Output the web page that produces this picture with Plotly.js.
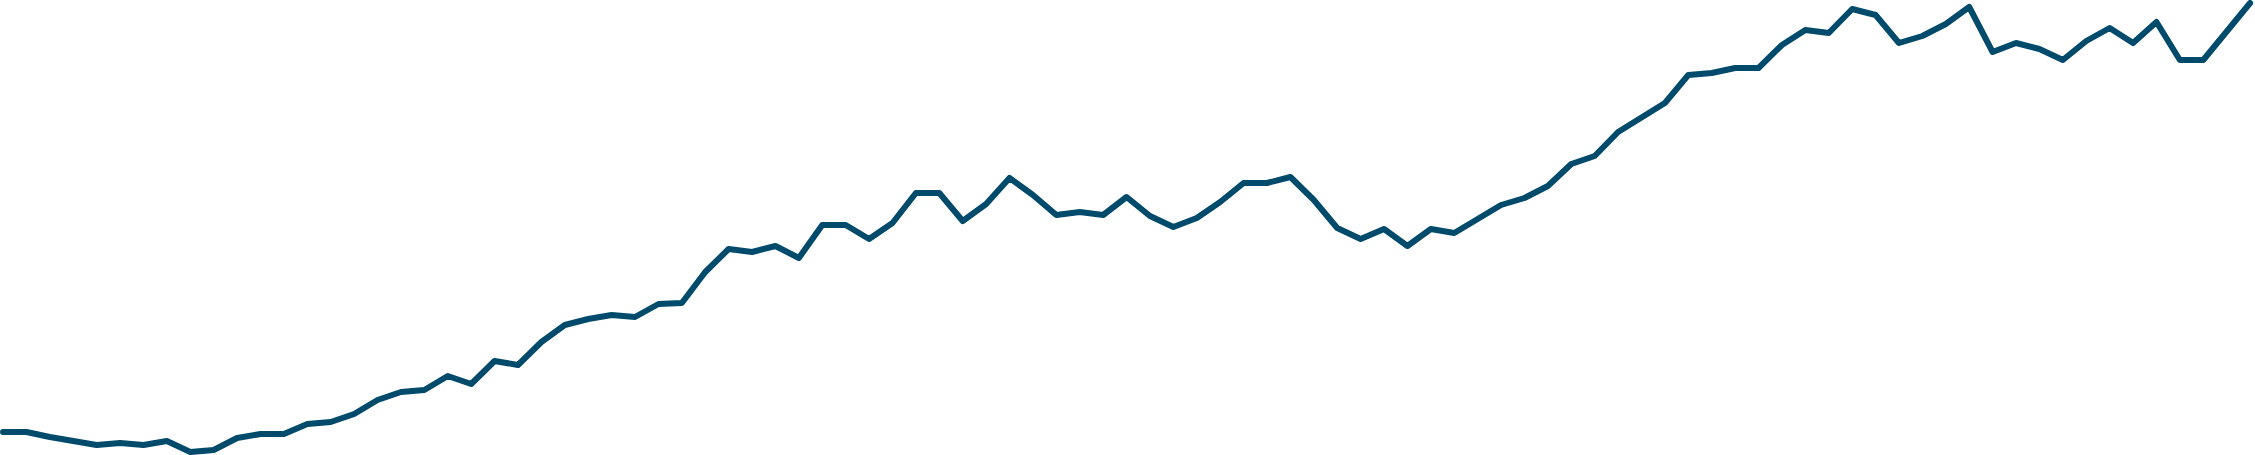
<!DOCTYPE html>
<html>
<head>
<meta charset="utf-8">
<script src="https://cdn.plot.ly/plotly-3.0.1.min.js"></script>
<style>
  html, body { margin: 0; padding: 0; background: #ffffff; }
  #chart { width: 2255px; height: 455px; }
</style>
</head>
<body>
<div id="chart"></div>
<script>
// one reading per period, index from 0
var periods = [];
var values = [
  23, 23, 18, 14, 10, 12, 10, 14, 3, 5,
  17, 21, 21, 31, 33, 41, 55, 63, 65, 79,
  71, 94, 90, 113, 130, 136, 140, 138, 151, 152,
  183, 206, 203, 209, 197, 230, 230, 216, 232, 262,
  262, 234, 251, 277, 260, 240, 243, 240, 258, 239,
  228, 237, 253, 272, 272, 278, 255, 227, 216, 226,
  209, 226, 222, 236, 250, 257, 269, 291, 299, 323,
  338, 352, 380, 382, 387, 387, 410, 425, 422, 446,
  440, 412, 419, 431, 448, 403, 412, 406, 395, 414,
  427, 412, 433, 395, 395, 423, 452
];
for (var i = 0; i < values.length; i++) periods.push(i);

var trace = {
  x: periods,
  y: values,
  type: 'scatter',
  mode: 'lines',
  line: { color: '#004a6b', width: 6 },
  hoverinfo: 'none'
};

var layout = {
  width: 2255,
  height: 455,
  margin: { l: 0, r: 0, t: 0, b: 0, pad: 0 },
  paper_bgcolor: '#ffffff',
  plot_bgcolor: '#ffffff',
  showlegend: false,
  xaxis: {
    range: [-0.13, 96.21],
    visible: false,
    fixedrange: true
  },
  yaxis: {
    range: [0, 455],
    visible: false,
    fixedrange: true
  }
};

Plotly.newPlot('chart', [trace], layout, { staticPlot: true, displayModeBar: false }).then(function () {
  // round ends like the reference
  document.querySelectorAll('.scatterlayer path.js-line').forEach(function (p) {
    p.style.strokeLinecap = 'round';
    p.style.strokeLinejoin = 'round';
  });
});
</script>
</body>
</html>
